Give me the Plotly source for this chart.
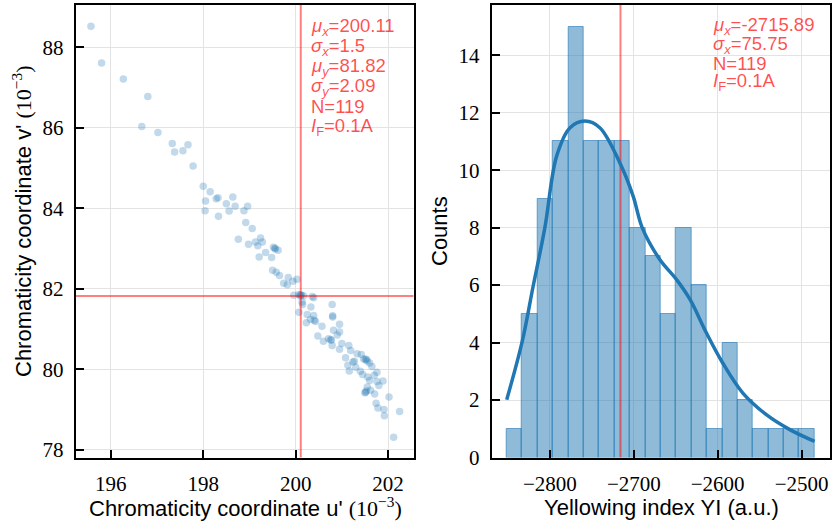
import numpy as np
import plotly.graph_objects as go

# ---------------- data ----------------
u_prime = [195.57, 195.80, 196.27, 196.80, 196.67, 197.02, 197.33, 197.67, 197.38, 197.56, 197.78,
           198.00, 198.15, 198.05, 198.28, 198.32, 198.64, 198.50, 198.69, 198.04, 198.33, 198.56,
           198.88, 198.96, 198.92, 199.06, 198.76, 198.98, 199.13, 199.24, 199.28, 199.18, 199.52,
           199.56, 199.62, 199.21, 199.48, 199.50, 199.58, 199.65, 199.84, 199.74, 199.82, 199.94,
           200.03,
           199.96, 200.07, 200.12, 200.17, 200.36, 200.39, 200.14, 200.15, 200.33, 200.79, 200.07,
           200.25, 200.39, 200.32, 200.23, 200.43, 200.80, 200.57, 200.95, 200.82, 200.95, 200.48,
           200.71, 200.77, 200.79, 201.00, 200.95, 201.15, 201.19,
           201.08, 201.13, 201.16, 201.24, 201.27, 201.33, 201.42, 201.47, 201.51, 201.55, 201.60,
           201.65, 201.76, 201.45, 201.56, 201.60, 201.76, 201.80, 201.89, 201.55, 201.51, 201.53,
           201.62, 201.71, 202.02, 201.74, 201.78, 201.91, 201.92, 202.25, 202.12,
           200.11, 200.10, 200.80, 200.76, 201.50, 199.55, 201.53, 200.40, 200.60, 201.30, 201.40,
           200.90, 199.35, 201.70]
v_prime = [88.52, 87.61, 87.21, 86.78, 86.03, 85.88, 85.61, 85.58, 85.40, 85.43, 85.05,
           84.55, 84.41, 84.18, 84.24, 84.26, 84.28, 84.11, 84.05, 83.94, 83.80, 83.93,
           83.94, 84.05, 83.65, 83.50, 83.23, 83.11, 83.16, 83.26, 83.16, 83.07, 83.03,
           82.99, 82.96, 82.79, 82.78, 82.46, 82.41, 82.33, 82.28, 82.14, 82.10, 82.19,
           82.24,
           81.84, 81.86, 81.84, 81.83, 81.81, 81.78, 81.67, 81.61, 81.55, 81.61, 81.42,
           81.36, 81.34, 81.24, 81.16, 81.19, 81.33, 81.07, 81.12, 80.97, 80.93, 80.83,
           80.76, 80.72, 80.59, 80.64, 80.50, 80.59, 80.47,
           80.29, 80.10, 79.96, 80.18, 80.20, 80.39, 80.37, 80.26, 80.24, 80.21, 80.16,
           80.07, 79.93, 79.87, 79.81, 79.72, 79.70, 79.60, 79.71, 79.56, 79.43, 79.46,
           79.48, 79.39, 79.31, 79.16, 79.04, 79.00, 78.85, 78.95, 78.31,
           81.85, 81.82, 81.30, 80.74, 79.42, 83.01, 80.25, 81.22, 80.70, 80.05, 79.95,
           80.85, 82.90, 79.85]

mu_u, sigma_u, mu_v, sigma_v = 200.11, 1.5, 81.82, 2.09
mu_yi, sigma_yi = -2715.89, 75.75
n_samples = 119
current = "0.1A"

yi_bin_min, yi_bin_max = -2851.5, -2484.5
yi_counts = [1, 5, 9, 11, 15, 11, 11, 11, 8, 7, 5, 8, 6, 1, 4, 2, 1, 1, 1, 1]

kde_x = [-2851.5, -2833, -2820, -2806, -2792, -2776, -2758, -2740.5, -2716.7, -2700.8,
         -2690, -2669, -2649, -2633, -2613.5, -2594, -2570, -2542, -2514, -2484.5]
kde_y = [2.01, 4.04, 5.96, 8.0, 10.49, 11.48, 11.71, 11.48, 10.26, 9.1,
         8.0, 6.89, 6.19, 5.5, 4.34, 3.29, 2.24, 1.49, 0.97, 0.56]

x_ticks_left = [196, 198, 200, 202]
y_ticks_left = [78, 80, 82, 84, 86, 88]
x_ticks_right = [-2800, -2700, -2600, -2500]
y_ticks_right = [0, 2, 4, 6, 8, 10, 12, 14]

# ---------------- figure ----------------
W, H = 834, 525
BLUE = "#1f77b4"
RED_LINE = "rgba(255,0,0,0.5)"
RED_TXT = "rgba(255,0,0,0.7)"
SERIF = "Liberation Serif"
SANS = "Liberation Sans"

edges = np.linspace(yi_bin_min, yi_bin_max, len(yi_counts) + 1)
centers = (edges[:-1] + edges[1:]) / 2
bw = edges[1] - edges[0]

fig = go.Figure()
fig.add_trace(go.Scatter(x=u_prime, y=v_prime, mode="markers",
                         marker=dict(size=7.5, color="rgba(31,119,180,0.28)", line=dict(width=0)),
                         xaxis="x", yaxis="y", showlegend=False))

fig.add_trace(go.Bar(x=centers, y=yi_counts, width=bw,
                     marker=dict(color="rgba(31,119,180,0.5)",
                                 line=dict(color="rgba(31,119,180,0.6)", width=1)),
                     xaxis="x2", yaxis="y2", showlegend=False))
y2max = max(yi_counts) * 1.05
fig.add_trace(go.Scatter(x=[mu_yi, mu_yi], y=[0, y2max], mode="lines",
                         line=dict(color=RED_LINE, width=2), xaxis="x2", yaxis="y2",
                         showlegend=False))
fig.add_trace(go.Scatter(x=kde_x, y=kde_y, mode="lines", line=dict(color=BLUE, width=3.5, shape="spline"),
                         xaxis="x2", yaxis="y2", showlegend=False))

# left red lines
fig.add_shape(type="line", xref="x", yref="y domain", x0=mu_u, x1=mu_u, y0=0, y1=1,
              line=dict(color=RED_LINE, width=2), layer="above")
fig.add_shape(type="line", xref="x domain", yref="y", x0=0, x1=1, y0=mu_v, y1=mu_v,
              line=dict(color=RED_LINE, width=2), layer="above")

x1d = [75.7 / W, 413.5 / W]
x2d = [491.7 / W, 829.5 / W]
yd = [1 - 457.5 / H, 1 - 5 / H]

axis_common = dict(showline=True, linewidth=2, linecolor="black", mirror=True,
                   ticks="inside", ticklen=8, tickwidth=2, tickcolor="black",
                   showgrid=True, gridcolor="#e3e3e3", gridwidth=1, zeroline=False,
                   ticklabelstandoff=6, automargin=False)

fig.update_layout(
    width=W, height=H, margin=dict(l=0, r=0, t=0, b=0, autoexpand=False),
    paper_bgcolor="white", plot_bgcolor="white", bargap=0,
    font=dict(family=SANS),
    xaxis=dict(domain=x1d, range=[195.24, 202.55], tickvals=x_ticks_left, anchor="y", **axis_common),
    yaxis=dict(domain=yd, range=[77.81, 89.05], tickvals=y_ticks_left, anchor="x", **axis_common),
    xaxis2=dict(domain=x2d, range=[-2869.4, -2466.7], tickvals=x_ticks_right, anchor="y2", **axis_common),
    yaxis2=dict(domain=yd, range=[0, y2max], tickvals=y_ticks_right, anchor="x2", **axis_common),
)
fig.update_xaxes(tickfont=dict(family=SERIF, size=21, color="black"))
fig.update_yaxes(tickfont=dict(family=SERIF, size=21, color="black"))

ann = []
def txt(x, y, text, size=22, color="black", xanchor="center", yanchor="middle", angle=0, font=SANS):
    ann.append(dict(x=x / W, y=1 - y / H, xref="paper", yref="paper", text=text, showarrow=False,
                    xanchor=xanchor, yanchor=yanchor, textangle=angle,
                    font=dict(family=font, size=size, color=color)))

exp = "<span style=\"font-family:'Liberation Serif'\">(10<sup>−3</sup>)</span>"
txt(245, 507, "Chromaticity coordinate u' " + exp)
txt(22, 221, "Chromaticity coordinate v' " + exp, angle=-90)
txt(661, 507, "Yellowing index YI (a.u.)")
txt(440, 231, "Counts", angle=-90)

left_lines = [f"<i>μ</i><sub><i>x</i></sub>={mu_u}", f"<i>σ</i><sub><i>x</i></sub>={sigma_u}",
              f"<i>μ</i><sub><i>y</i></sub>={mu_v}", f"<i>σ</i><sub><i>y</i></sub>={sigma_v}",
              f"N={n_samples}", f"<i>I</i><sub>F</sub>={current}"]
for i, s in enumerate(left_lines):
    txt(309, 27 + i * 20, s, size=18.5, color=RED_TXT, xanchor="left")
right_lines = [f"<i>μ</i><sub><i>x</i></sub>={mu_yi}", f"<i>σ</i><sub><i>x</i></sub>={sigma_yi}",
               f"N={n_samples}", f"<i>I</i><sub>F</sub>={current}"]
for i, s in enumerate(right_lines):
    txt(711, 26 + i * 18.6, s, size=18.5, color=RED_TXT, xanchor="left")

fig.update_layout(annotations=ann)
fig.write_html("out.html", config={"displayModeBar": False},
               post_script="document.body.style.margin='0';document.body.style.padding='0';")
